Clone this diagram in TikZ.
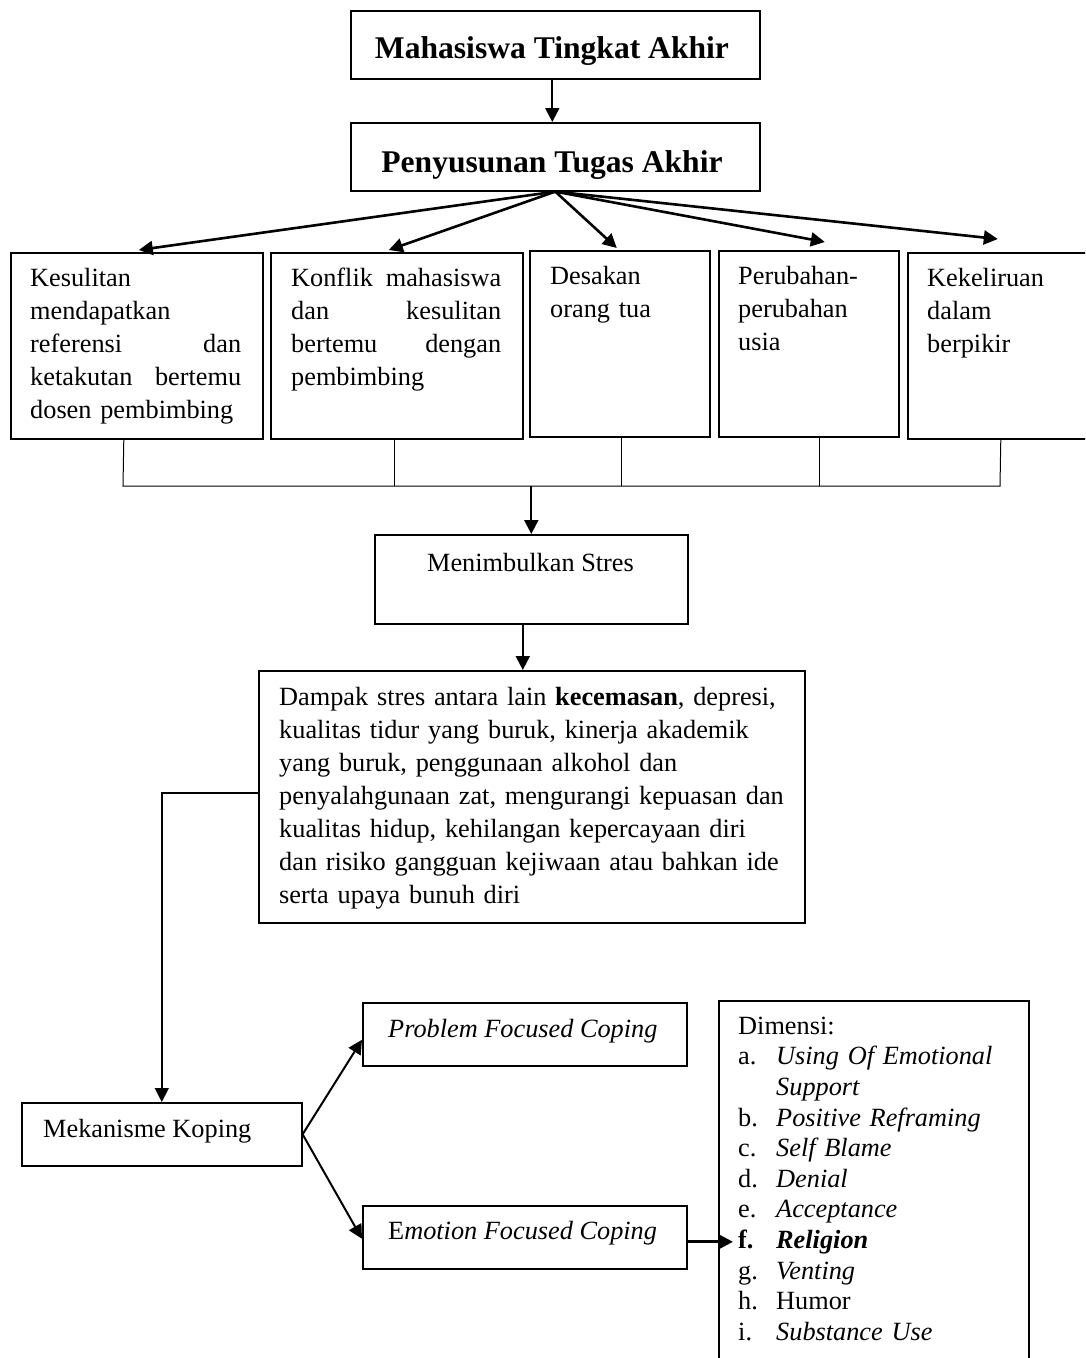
\documentclass[tikz,border=0pt]{standalone}
\usepackage{fontspec}
\setmainfont{Liberation Serif}
\usetikzlibrary{arrows.meta,calc}
\newcommand{\bodyf}{\fontsize{26.3}{33}\selectfont}
\newcommand{\listf}{\fontsize{26.3}{30.6}\selectfont}
\newcommand{\headf}{\fontsize{31.6}{38}\selectfont\bfseries}
\newcommand{\st}{\rule{0pt}{20pt}}
\newcommand{\jl}[3]{\makebox[#1][l]{#2\hfill #3}}
\newcommand{\li}[1]{\makebox[38pt][l]{#1}}
\begin{document}
\begin{tikzpicture}[x=1pt,y=-1pt,
  box/.style={draw,line width=1.6pt,inner sep=0pt,anchor=north west},
  txt/.style={inner sep=0pt,font=\bodyf},
  ml/.style={txt,anchor=north west,align=left},
  arr/.style={-{Triangle[length=14pt,width=14pt]},line width=2pt},
  thinln/.style={line width=1pt}]
\useasboundingbox (0,0) rectangle (1085,1358);
\clip (0,0) rectangle (1085,1358);
% boxes
\node[box,minimum width=409pt,minimum height=68pt] (b1) at (350,10) {};
\node[box,minimum width=409pt,minimum height=68pt] (b2) at (350,122) {};
\node[box,minimum width=252pt,minimum height=186pt] (kA) at (10,252) {};
\node[box,minimum width=252pt,minimum height=186pt] (kB) at (270,252) {};
\node[box,minimum width=180pt,minimum height=186pt] (kC) at (529,250) {};
\node[box,minimum width=180pt,minimum height=186pt] (kD) at (718,250) {};
\node[box,minimum width=190pt,minimum height=186pt] (kE) at (907,252) {};
\node[box,minimum width=313pt,minimum height=89pt] (km) at (374,534) {};
\node[box,minimum width=546pt,minimum height=252pt] (kd) at (258,670) {};
\node[box,minimum width=280pt,minimum height=63pt] (kk) at (21,1102) {};
\node[box,minimum width=324pt,minimum height=63pt] (kp) at (362,1002) {};
\node[box,minimum width=324pt,minimum height=63pt] (ke) at (362,1205) {};
\node[box,minimum width=310pt,minimum height=380pt] (kx) at (718,1000) {};
% texts
\node[txt,font=\headf,anchor=base] (t1) at (552,58) {Mahasiswa Tingkat Akhir};
\node[txt,font=\headf,anchor=base] (t2) at (552,172) {Penyusunan Tugas Akhir};
\node[ml,text width=211pt] (tA) at (30,266) {\st Kesulitan\\ mendapatkan\\ \jl{211pt}{referensi}{dan}\\ \jl{211pt}{ketakutan}{bertemu}\\ dosen pembimbing};
\node[ml,text width=210pt] (tB) at (291,266) {\st\jl{210pt}{Konflik}{mahasiswa}\\ \jl{210pt}{dan}{kesulitan}\\ \jl{210pt}{bertemu}{dengan}\\ pembimbing};
\node[ml,text width=150pt] (tC) at (550,264) {\st Desakan\\ orang tua};
\node[ml,text width=150pt] (tD) at (738,264) {\st Perubahan-\\ perubahan\\ usia};
\node[ml,text width=150pt] (tE) at (927,266) {\st Kekeliruan\\ dalam\\ berpikir};
\node[txt,anchor=base] (tm) at (530.5,571) {Menimbulkan Stres};
\node[ml,text width=520pt] (td) at (279,685) {\st Dampak stres antara lain \textbf{kecemasan}, depresi,\\ kualitas tidur yang buruk, kinerja akademik\\ yang buruk, penggunaan alkohol dan\\ penyalahgunaan zat, mengurangi kepuasan dan\\ kualitas hidup, kehilangan kepercayaan diri\\ dan risiko gangguan kejiwaan atau bahkan ide\\ serta upaya bunuh diri};
\node[txt,anchor=base west] (tk) at (43,1137) {Mekanisme Koping};
\node[txt,anchor=base west] (tp) at (388,1037) {\textit{Problem Focused Coping}};
\node[txt,anchor=base west] (te) at (388,1239) {E\textit{motion Focused Coping}};
\node[ml,font=\listf,text width=290pt] (tx) at (738,1014) {\st Dimensi:\\
\li{a.}\textit{Using Of Emotional}\\
\hspace*{38pt}\textit{Support}\\
\li{b.}\textit{Positive Reframing}\\
\li{c.}\textit{Self Blame}\\
\li{d.}\textit{Denial}\\
\li{e.}\textit{Acceptance}\\
\li{\textbf{f.}}\textbf{\textit{Religion}}\\
\li{g.}\textit{Venting}\\
\li{h.}Humor\\
\li{i.}\textit{Substance Use}};
% connectors
\draw[arr] ([xshift=-3pt]b1.south) -- ([xshift=-3pt]b2.north);
\draw[arr,line width=2.6pt] (b2.south) -- ([xshift=2pt,yshift=2pt]kA.north);
\draw[arr,line width=2.6pt] (b2.south) -- ([xshift=-8pt,yshift=2pt]kB.north);
\draw[arr,line width=2.6pt] (b2.south) -- ([xshift=-3pt,yshift=2pt]kC.north);
\draw[arr,line width=2.6pt] (b2.south) -- ([xshift=16pt,yshift=8pt]kD.north);
\draw[arr,line width=2.6pt] (b2.south) -- ([xshift=-5pt,yshift=13pt]kE.north);
\coordinate (bl) at (123,486);
\coordinate (br) at (1000,486);
\draw[thinln] ([xshift=-13pt]kA.south) -- (bl) -- (br) -- ([xshift=-2pt]kE.south);
\foreach \n/\s in {kB/-2,kC/2,kD/11}
  \draw[thinln] ([xshift=\s pt]\n.south) -- ([xshift=\s pt]\n.south |- bl);
\draw[arr] (km.north |- bl) -- (km.north);
\draw[arr] ([xshift=-8.5pt]km.south) -- ([xshift=-8.5pt]km.south |- kd.north);
\draw[arr,line width=1.4pt] ([yshift=4pt]kd.west) -| (kk.north);
\draw[arr] (kk.east) -- ([yshift=-5.5pt]kp.west);
\draw[arr] (kk.east) -- ([yshift=-1.5pt]ke.west);
\draw[arr,line width=3pt,shorten >=-15pt] ([yshift=-4.5pt]ke.east) -- ([yshift=-4.5pt]ke.east -| kx.west);
\end{tikzpicture}
\end{document}
